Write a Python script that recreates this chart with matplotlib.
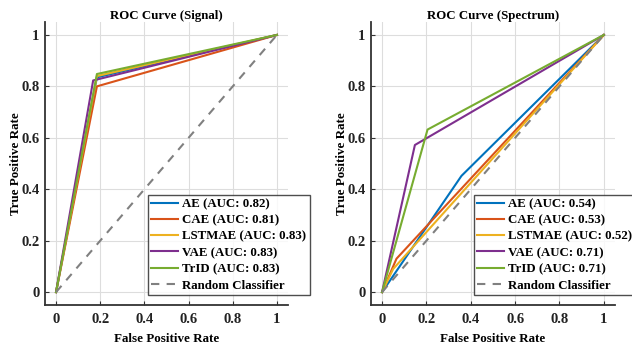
import numpy as np
import matplotlib
matplotlib.use("Agg")
import matplotlib.pyplot as plt
from matplotlib.ticker import FuncFormatter

plt.rcParams['font.family'] = ['Liberation Serif', 'DejaVu Serif']
plt.rcParams['font.weight'] = 'bold'

models = ["AE", "CAE", "LSTMAE", "VAE", "TrID"]
colors = ["#0072BD", "#D95319", "#EDB120", "#7E2F8E", "#77AC30"]

# ROC points (fpr, tpr)
signal_fpr = [[0, 0.185, 1], [0, 0.185, 1], [0, 0.185, 1], [0, 0.168, 1], [0, 0.185, 1]]
signal_tpr = [[0, 0.835, 1], [0, 0.80, 1], [0, 0.84, 1], [0, 0.823, 1], [0, 0.848, 1]]
signal_auc = [0.82, 0.81, 0.83, 0.83, 0.83]

spec_fpr = [[0, 0.358, 1], [0, 0.065, 1], [0, 0.05, 1], [0, 0.148, 1], [0, 0.205, 1]]
spec_tpr = [[0, 0.452, 1], [0, 0.13, 1], [0, 0.09, 1], [0, 0.572, 1], [0, 0.632, 1]]
spec_auc = [0.54, 0.53, 0.52, 0.71, 0.71]

ticks = [0, 0.2, 0.4, 0.6, 0.8, 1]


def draw_roc(ax, fprs, tprs, aucs, title, leg_x):
    for name, c, x, y, a in zip(models, colors, fprs, tprs, aucs):
        ax.plot(x, y, color=c, lw=1.5, label=f"{name} (AUC: {a:.2f})")
    ax.plot([0, 1], [0, 1], color="#808080", lw=1.5, linestyle=(0, (4, 3.5)),
            label="Random Classifier")
    ax.set_xlim(-0.05, 1.05)
    ax.set_ylim(-0.05, 1.05)
    ax.set_xticks(ticks)
    ax.set_yticks(ticks)
    fmt = FuncFormatter(lambda v, p: f"{v:g}")
    ax.xaxis.set_major_formatter(fmt)
    ax.yaxis.set_major_formatter(fmt)
    ax.grid(True, color="#dddddd", lw=0.8)
    ax.set_axisbelow(True)
    for s in ["top", "right"]:
        ax.spines[s].set_visible(False)
    for s in ["left", "bottom"]:
        ax.spines[s].set_color("#333333")
        ax.spines[s].set_linewidth(1.3)
    ax.tick_params(direction="in", length=3, width=0.8, color="#333333",
                   labelsize=10.5, labelcolor="#222222")
    ax.tick_params(axis="x", pad=6)
    ax.tick_params(axis="y", pad=4)
    ax.set_title(title, fontsize=9.3, fontweight="bold", pad=2)
    ax.set_xlabel("False Positive Rate", fontsize=9.4, fontweight="bold", labelpad=4.5)
    ax.set_ylabel("True Positive Rate", fontsize=9.4, fontweight="bold", labelpad=-0.5)
    leg = ax.legend(loc="lower left", bbox_to_anchor=(leg_x, 0.036), fontsize=9.3,
                    frameon=True, fancybox=False, edgecolor="#222222",
                    handlelength=2.1, handletextpad=0.3, labelspacing=0.33,
                    borderpad=0.25, borderaxespad=0)
    leg.get_frame().set_linewidth(1.0)
    leg.set_clip_on(False)


fig = plt.figure(figsize=(6.32, 3.48), dpi=100)
ax1 = fig.add_axes([0.0712, 0.1236, 0.3845, 0.813])
ax2 = fig.add_axes([0.587, 0.1236, 0.386, 0.813])

draw_roc(ax1, signal_fpr, signal_tpr, signal_auc, "ROC Curve (Signal)", 0.424)
draw_roc(ax2, spec_fpr, spec_tpr, spec_auc, "ROC Curve (Spectrum)", 0.421)

fig.savefig("out.png", dpi=100)
